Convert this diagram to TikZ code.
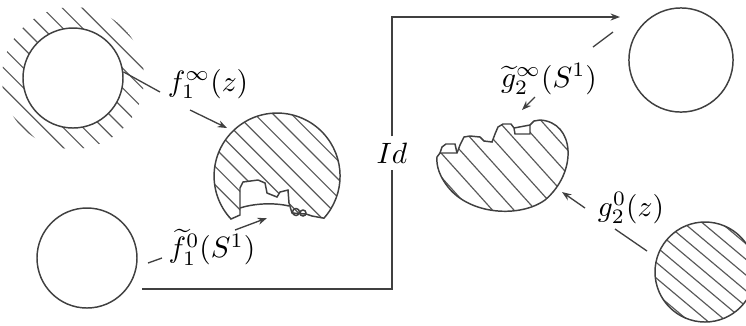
\documentclass[tikz,border=0pt]{standalone}
\usetikzlibrary{arrows.meta}
\tikzset{
  outline/.style={draw=black!75, line width=0.5pt},
  hatch/.style={draw=black!65, line width=0.4pt},
  conn/.style={draw=black!75, line width=0.45pt},
  arr/.style={conn, -{Stealth[length=3.2pt,width=2.4pt]}},
  lbl/.style={inner sep=1pt},
  ring/.style={outline, circle, inner sep=0pt},
}
\begin{document}
\begin{tikzpicture}[x=0.34pt,y=-0.34pt]
\useasboundingbox (0,0) rectangle (746,325);
\clip (0,0) rectangle (746,325);

% ---- top-left circle with outside hatching
\begin{scope}[even odd rule]
  \clip (73,78) circle[radius=71] (73,78) circle[radius=50];
  \foreach \d in {-70,-56,...,70}
    \draw[hatch, shift={(73,78)}, rotate=-45] (-90,\d) -- (90,\d);
\end{scope}
\node[ring, minimum size=34pt] (A) at (73,78) {};

% ---- bottom-left circle
\node[ring, minimum size=34pt] (B) at (87,258) {};

% ---- top-right circle
\node[ring, minimum size=35.4pt] (C) at (681,60) {};

% ---- bottom-right hatched circle
\begin{scope}
  \clip (705,272) circle[radius=50];
  \foreach \d in {-60,-48,...,60}
    \draw[hatch, shift={(705,272)}, rotate=-40] (-80,\d) -- (80,\d);
\end{scope}
\node[ring, minimum size=34pt] (D) at (705,272) {};

% ---- middle hatched disk with bitten bottom
\def\midpath{(231,219) arc[start angle=137,end angle=402,radius=63]
  -- (312,216) -- (306,214) -- (292,213) -- (289,203) -- (288,190)
  -- (280,192) -- (277,197) -- (267,193) -- (265,183) -- (258,180)
  -- (243,182) -- (240,188) -- (240,215) -- cycle}
\begin{scope}
  \clip \midpath;
  \foreach \d in {-80,-67,...,80}
    \draw[hatch, shift={(277,176)}, rotate=-45] (-100,\d) -- (100,\d);
\end{scope}
\draw[outline] \midpath;
\draw[outline] (240,208) .. controls (252,204) and (272,202) .. (289,206);
\draw[outline] (296,212) circle[radius=3.5];
\draw[outline] (303,213) circle[radius=3];

% ---- right hatched shape with notched top
\def\rpath{(437,157) -- (440,153) -- (457,153) -- (460,145) -- (464,137)
  -- (470,136) -- (480,137) -- (484,141) -- (492,142) -- (495,134)
  -- (498,127) -- (503,124) -- (511,124) -- (514,128) -- (515,134)
  -- (530,134) -- (530,125) -- (534,121) -- (540,120)
  .. controls (575,122) and (578,172) .. (545,200)
  .. controls (520,218) and (470,215) .. (448,187)
  .. controls (440,177) and (436,166) .. (437,157) -- cycle}
\begin{scope}
  \clip \rpath;
  \foreach \d in {-90,-74,...,90}
    \draw[hatch, shift={(503,165)}, rotate=-48] (-110,\d) -- (110,\d);
\end{scope}
\draw[outline] \rpath;
\draw[outline] (440,153) -- (442,147) -- (446,144) -- (455,144) -- (457,153);
\draw[outline] (514,128) -- (530,125);

% ---- labels
\node[lbl] (f1) at (208,84) {$f_1^{\infty}(z)$};
\node[lbl] (f0) at (212,247) {$\widetilde{f}_1^{0}(S^1)$};
\node[lbl] (g2i) at (549,79) {$\widetilde{g}_2^{\infty}(S^1)$};
\node[lbl] (g20) at (631,208) {$g_2^{0}(z)$};
\node[lbl, inner sep=2pt] (Id) at (392,153) {$Id$};

% ---- connector end points
\coordinate (a1) at (160,92);
\coordinate (a2) at (190,110);
\coordinate (a3) at (227,128);
\coordinate (b1) at (148,263);
\coordinate (b2) at (162,258);
\coordinate (b3) at (235,230);
\coordinate (b4) at (267,218);
\coordinate (s0) at (142,289);
\coordinate (t0) at (620,17);
\coordinate (c1) at (593,47);
\coordinate (c2) at (613,32);
\coordinate (c3) at (535,97);
\coordinate (c4) at (522,110);
\coordinate (d1) at (585,208);
\coordinate (d2) at (562,192);
\coordinate (d3) at (615,229);
\coordinate (d4) at (647,251);

% ---- connectors
\draw[conn] (A.7) -- (a1);
\draw[arr] (a2) -- (a3);
\draw[conn] (b1) -- (b2);
\draw[arr] (b3) -- (b4);
\draw[conn] (s0) -| (Id.south);
\draw[arr] (Id.north) |- (t0);
\draw[conn] (c1) -- (c2);
\draw[arr] (c3) -- (c4);
\draw[arr] (d1) -- (d2);
\draw[conn] (d3) -- (d4);
\end{tikzpicture}
\end{document}
